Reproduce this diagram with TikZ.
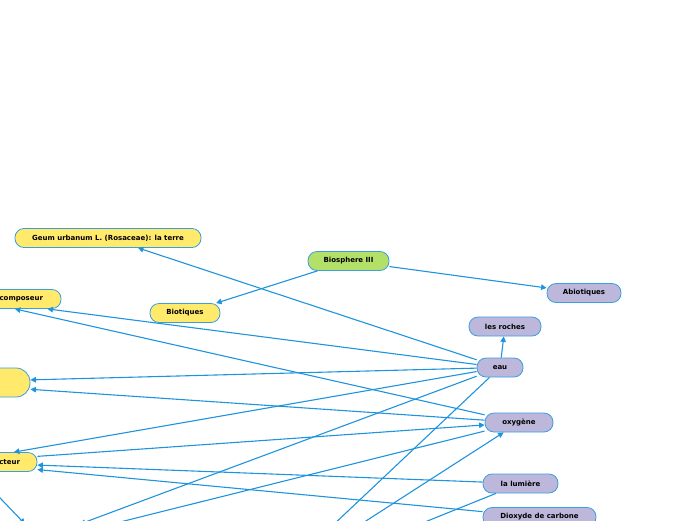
\documentclass[tikz,border=0pt]{standalone}
\usepackage{fontspec}
\setmainfont{DejaVu Sans}
\usetikzlibrary{arrows.meta}
\definecolor{topicyellow}{HTML}{FFEA6C}
\definecolor{topicgreen}{HTML}{B3E068}
\definecolor{topicpurple}{HTML}{BDB7DC}
\definecolor{borderblue}{HTML}{3A9EE0}
\definecolor{linkblue}{HTML}{1F93DC}

\begin{document}
\begin{tikzpicture}[x=1pt,y=-1pt,
  pill/.style={draw=borderblue, line width=0.8pt, rounded corners=9pt, minimum height=19pt, inner sep=0pt, font=\fontsize{7}{8}\selectfont\bfseries},
  yellowpill/.style={pill, fill=topicyellow},
  greenpill/.style={pill, fill=topicgreen},
  purplepill/.style={pill, fill=topicpurple},
  link/.style={draw=linkblue, line width=1.1pt, -{Triangle[length=5.5pt,width=5.5pt]}}]
\useasboundingbox (0,0) rectangle (696,520);
\clip (0,0) rectangle (696,520);

% topics
\node[greenpill, minimum width=81pt] (bio3) at (348.5,261) {Biosphere III};
\node[yellowpill, minimum width=186pt] (geum) at (108,238) {Geum urbanum L. (Rosaceae): la terre};
\node[yellowpill, minimum width=70pt] (biot) at (185,313) {Biotiques};
\node[purplepill, minimum width=74pt] (abiot) at (584,293) {Abiotiques};
\node[yellowpill, minimum width=180pt, text width=144pt, align=right] (decomp) at (-29,299) {composeur};
\node[yellowpill, minimum width=200pt, minimum height=29pt, rounded corners=14pt] (big) at (-70,382.5) {};
\node[yellowpill, minimum width=160pt, text width=126pt, align=right] (prod) at (-43,462) {cteur};
\node[purplepill, minimum width=72pt] (roches) at (505,326.5) {les roches};
\node[purplepill, minimum width=46pt] (eau) at (500,367.5) {eau};
\node[purplepill, minimum width=68pt] (oxy) at (519,422.5) {oxygène};
\node[purplepill, minimum width=75pt] (lum) at (520.5,483.5) {la lumière};
\node[purplepill, minimum width=113pt] (co2) at (539.5,517) {Dioxyde de carbone};

% ends below the page
\coordinate (offa) at (80,524);
\coordinate (offb) at (100,527);
\coordinate (offc) at (330,528);
\coordinate (offd) at (355,528);
\coordinate (offe) at (410,528);
\coordinate (offf) at (25,524);
\coordinate (offg) at (-20,477);

% links
\draw[link] (bio3) -- (biot);
\draw[link] (bio3) -- (abiot);
\draw[link] (eau) -- (geum);
\draw[link] (eau) -- (roches);
\draw[link] (eau) -- (decomp);
\draw[link] (eau) -- (big);
\draw[link] (eau) -- (prod);
\draw[link] (eau) -- (offa);
\draw[link] (eau) -- (offc);
\draw[link] (oxy) -- (decomp);
\draw[link] (oxy) -- (big);
\draw[link] (oxy) -- (offb);
\draw[link] (prod) -- (oxy);
\draw[link] (offd) -- (oxy);
\draw[link] (lum) -- (prod);
\draw[link] (lum) -- (offe);
\draw[link] (co2) -- (prod);
\draw[link] (offg) -- (offf);
\end{tikzpicture}
\end{document}
